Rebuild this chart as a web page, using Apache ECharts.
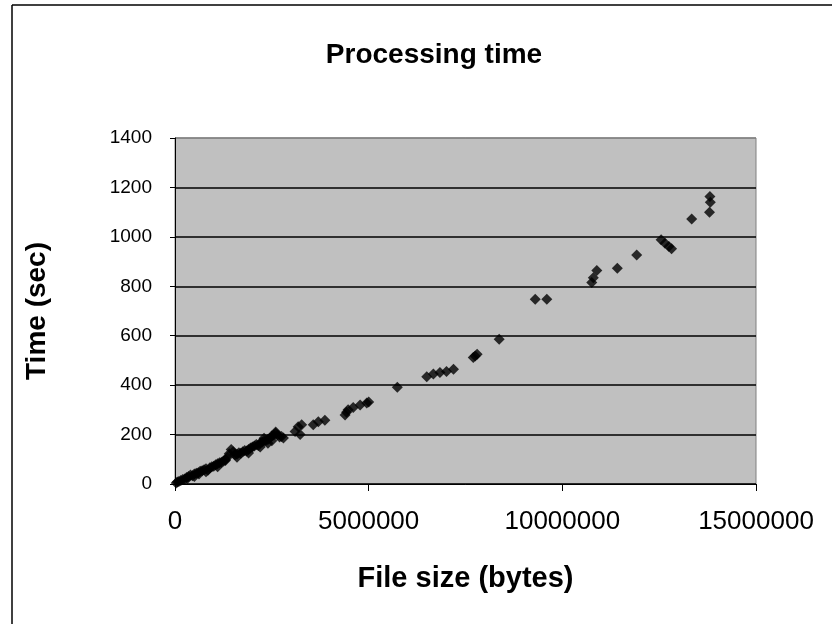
<!DOCTYPE html>
<html>
<head>
<meta charset="utf-8">
<script src="https://cdn.jsdelivr.net/npm/echarts@6/dist/echarts.min.js"></script>
<style>
html,body{margin:0;padding:0;background:#fff;}
#chart{width:832px;height:624px;}
</style>
</head>
<body>
<div id="chart"></div>
<script>
// File size (bytes)
var fileSizes = [
  30000, 60000, 100000, 150000, 200000, 250000, 300000, 320000, 350000, 400000,
  450000, 500000, 550000, 600000, 620000, 650000, 700000, 750000, 800000, 850000,
  900000, 950000, 1000000, 1050000, 1100000, 1150000, 1200000, 1250000, 1300000, 1350000,
  1400000, 1450000, 1500000, 1550000, 1600000, 1650000, 1700000, 1750000, 1800000, 1850000,
  1900000, 1950000, 2000000, 2050000, 2100000, 2150000, 2200000, 2250000, 2300000, 2350000,
  2400000, 2450000, 2500000, 2550000, 2600000, 2650000, 2700000, 2750000, 2800000,
  500000, 800000, 1100000, 1300000, 1600000, 1900000, 2200000, 2400000, 2500000, 2300000, 2600000,
  3100000, 3180000, 3230000, 3270000, 3570000, 3700000, 3870000,
  4390000, 4430000, 4470000, 4600000, 4780000, 4950000, 5000000,
  5740000,
  6500000, 6670000, 6840000, 7010000, 7190000,
  7700000, 7750000, 7800000, 8370000,
  9300000, 9600000,
  10760000, 10800000, 10890000, 11420000, 11920000,
  12550000, 12650000, 12750000, 12820000,
  13340000, 13800000, 13820000, 13810000
];
// Processing time (sec)
var times = [
  4, 8, 10, 14, 18, 20, 26, 22, 30, 36,
  33, 40, 44, 46, 40, 52, 54, 58, 62, 56,
  66, 70, 72, 78, 82, 86, 88, 92, 98, 108,
  122, 140, 130, 118, 120, 126, 124, 130, 136, 134,
  140, 146, 150, 154, 160, 156, 166, 170, 174, 176,
  180, 186, 194, 198, 205, 198, 190, 192, 186,
  30, 50, 70, 95, 108, 125, 150, 165, 175, 185, 210,
  212, 232, 200, 240, 240, 252, 258,
  279, 290, 300, 310, 320, 328, 332,
  391,
  434, 445, 451, 455, 464,
  512, 518, 525, 586,
  748, 748,
  815, 835, 864, 873, 927,
  988, 974, 961, 952,
  1072, 1100, 1140, 1163
];
var xTicks = [0, 5000000, 10000000, 15000000];
var yTicks = [0, 200, 400, 600, 800, 1000, 1200, 1400];

var points = fileSizes.map(function (v, i) { return [v, times[i]]; });

var chart = echarts.init(document.getElementById('chart'), null, {renderer: 'canvas'});
var font = 'Liberation Sans, Arial, sans-serif';
var gridColors = yTicks.map(function (t, i) { return i === yTicks.length - 1 ? '#808080' : '#000000'; });

chart.setOption({
  animation: false,
  backgroundColor: '#ffffff',
  graphic: [
    {type: 'line', shape: {x1: 12, y1: 5, x2: 12, y2: 624}, style: {stroke: '#000', lineWidth: 1.5}},
    {type: 'line', shape: {x1: 12, y1: 5, x2: 832, y2: 5}, style: {stroke: '#000', lineWidth: 1.5}}
  ],
  title: {
    text: 'Processing time',
    left: 429, top: 36, textAlign: 'center',
    textStyle: {fontFamily: font, fontSize: 28, fontWeight: 'bold', color: '#000'}
  },
  grid: {
    left: 175, right: 76, top: 138, bottom: 140,
    show: true, backgroundColor: '#c0c0c0', borderColor: '#808080', borderWidth: 1
  },
  xAxis: {
    type: 'value', min: xTicks[0], max: xTicks[xTicks.length - 1], interval: 5000000,
    name: 'File size (bytes)', nameLocation: 'middle', nameGap: 80,
    nameTextStyle: {fontFamily: font, fontSize: 29, fontWeight: 'bold', color: '#000'},
    axisLine: {onZero: false, lineStyle: {color: '#000', width: 1}},
    axisTick: {show: true, inside: false, length: 7, lineStyle: {color: '#000'}},
    axisLabel: {margin: 25, fontFamily: font, fontSize: 26, color: '#000',
      formatter: function (v) { return String(v); }},
    splitLine: {show: false}
  },
  yAxis: {
    type: 'value', min: yTicks[0], max: yTicks[yTicks.length - 1], interval: 200,
    name: 'Time (sec)', nameLocation: 'middle', nameGap: 124, nameRotate: 90,
    nameTextStyle: {fontFamily: font, fontSize: 28, fontWeight: 'bold', color: '#000'},
    axisLine: {onZero: false, lineStyle: {color: '#000', width: 1}},
    axisTick: {show: true, inside: false, length: 5, lineStyle: {color: '#000'}},
    axisLabel: {margin: 23, fontFamily: font, fontSize: 19, color: '#000',
      formatter: function (v) { return String(v); }},
    splitLine: {show: true, lineStyle: {color: gridColors, width: 1.5}}
  },
  series: [{
    type: 'scatter',
    data: points,
    symbol: 'diamond',
    symbolSize: 11,
    itemStyle: {color: '#000000'}
  }]
});
</script>
</body>
</html>
